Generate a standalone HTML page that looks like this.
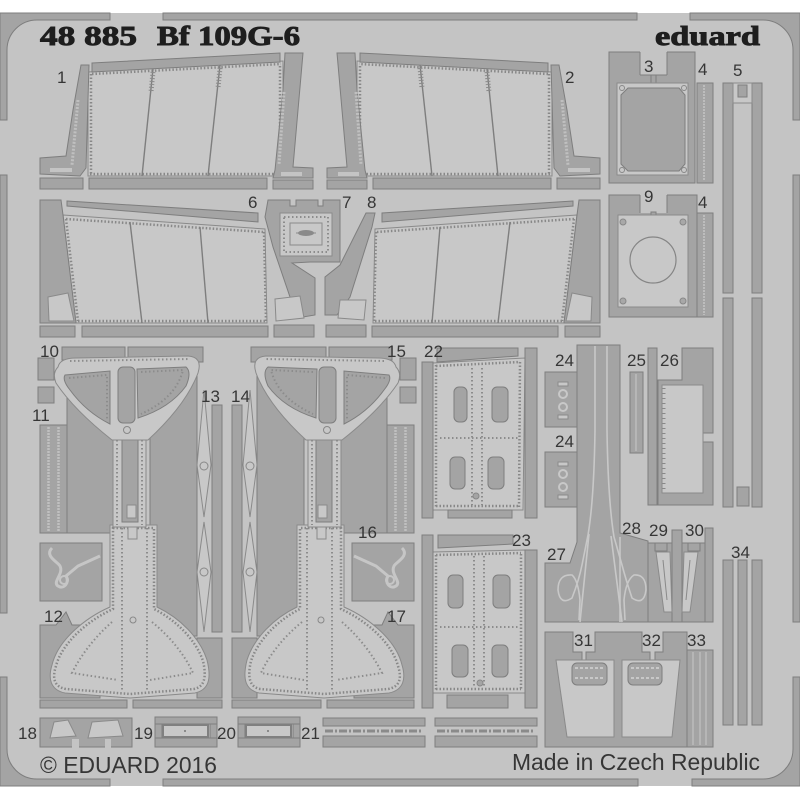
<!DOCTYPE html>
<html><head><meta charset="utf-8">
<style>
html,body{margin:0;padding:0;background:#fff;width:800px;height:800px;overflow:hidden}
svg{display:block}
.d{fill:#a4a4a4;stroke:#7e7e7e;stroke-width:1}
.p{fill:#c8c8c8;stroke:#8a8a8a;stroke-width:1}
.g{fill:#c4c4c4;stroke:none}
.r{fill:none;stroke:#888;stroke-width:2.5;stroke-dasharray:1.5 2}
.rs{fill:none;stroke:#8c8c8c;stroke-width:2;stroke-dasharray:1.5 2.5}
.ln{stroke:#7e7e7e;stroke-width:1.4;fill:none}
.w{stroke:#c8c8c8;stroke-width:1.6;fill:none}
.n{font-family:"Liberation Sans",Arial,sans-serif;font-size:17px;fill:#363636}
</style></head><body>
<svg width="800" height="800" viewBox="0 0 800 800" xmlns="http://www.w3.org/2000/svg" xmlns:xlink="http://www.w3.org/1999/xlink">
<rect x="0" y="0" width="800" height="800" fill="#fff"/>
<rect x="0" y="13" width="800" height="773" fill="#c4c4c4"/>

<!-- frame -->
<path class="d" d="M0,13H110V20H37A30,30 0 0 0 7,50V120H0Z"/>
<rect class="d" x="163" y="13" width="474" height="7"/>
<path class="d" d="M690,13H800V120H793V50A30,30 0 0 0 763,20H690Z"/>
<rect class="d" x="0" y="175" width="7" height="438"/>
<rect class="d" x="793" y="175" width="7" height="447"/>
<path class="d" d="M0,677H7V749A30,30 0 0 0 37,779H110V786H0Z"/>
<rect class="d" x="163" y="779" width="475" height="7"/>
<path class="d" d="M692,779H763A30,30 0 0 0 793,749V677H800V786H692Z"/>

<!-- titles -->
<text x="40" y="45" font-family="Liberation Serif,serif" font-weight="bold" font-size="27" fill="#1e1e1e" stroke="#1e1e1e" stroke-width="0.9" textLength="97" lengthAdjust="spacingAndGlyphs">48 885</text>
<text x="157" y="45" font-family="Liberation Serif,serif" font-weight="bold" font-size="27" fill="#1e1e1e" stroke="#1e1e1e" stroke-width="0.9" textLength="143" lengthAdjust="spacingAndGlyphs">Bf 109G-6</text>
<text x="655" y="45" font-family="Liberation Serif,serif" font-weight="bold" font-size="27" fill="#1e1e1e" stroke="#1e1e1e" stroke-width="0.9" textLength="105" lengthAdjust="spacingAndGlyphs">eduard</text>

<!-- ROW 1 (part 1), mirrored for part 2 -->
<g id="r1">
<polygon class="p" points="88,72 283,61 283,176 88,176"/>
<line class="r" x1="91" y1="74" x2="91" y2="174"/>
<line class="r" x1="92" y1="74" x2="281" y2="64"/>
<line class="r" x1="90" y1="174" x2="281" y2="174"/>
<line class="r" x1="280" y1="66" x2="280" y2="174"/>
<line class="ln" x1="153" y1="69" x2="142" y2="176"/>
<line class="ln" x1="220" y1="65" x2="208" y2="176"/>
<line x1="153" y1="72" x2="151" y2="92" stroke="#8a8a8a" stroke-width="5" stroke-dasharray="1 2"/>
<line x1="220" y1="68" x2="218" y2="88" stroke="#8a8a8a" stroke-width="5" stroke-dasharray="1 2"/>
<polygon class="d" points="92,63 280,53 280,62 92,72"/>
<polygon class="d" points="81,65 89,65 86,168 80,176 40,174 40,158 66,156 73,110"/>
<line x1="78" y1="100" x2="72" y2="165" stroke="#c0c0c0" stroke-width="3" stroke-dasharray="2 1.5"/>
<rect class="g" x="50" y="168" width="22" height="4"/>
<polygon class="d" points="285,53 303,53 293,167 313,168 313,178 273,178 275,170 283,90"/>
<line x1="284" y1="92" x2="279" y2="165" stroke="#c0c0c0" stroke-width="3" stroke-dasharray="2 1.5"/>
<rect class="g" x="281" y="172" width="21" height="4"/>
<rect class="d" x="40" y="178" width="43" height="11"/>
<rect class="d" x="89" y="178" width="178" height="11"/>
<rect class="d" x="273" y="180" width="40" height="9"/>
</g>
<use xlink:href="#r1" href="#r1" transform="translate(640,0) scale(-1,1)"/>

<!-- ROW 2 big panels, mirrored -->
<g id="r2">
<polygon class="p" points="63,215 265,229 267,323 76,323"/>
<line class="r" x1="66" y1="219" x2="78" y2="321"/>
<line class="r" x1="66" y1="219" x2="264" y2="232"/>
<line class="r" x1="78" y1="321" x2="265" y2="321"/>
<line class="r" x1="264" y1="232" x2="266" y2="321"/>
<line class="ln" x1="130" y1="222" x2="142" y2="323"/>
<line class="ln" x1="200" y1="227" x2="208" y2="323"/>
<polygon class="d" points="67,201 258,213 258,222 67,206"/>
<polygon class="d" points="40,200 61,200 63,215 76,323 40,323"/>
<polygon class="p" points="48,297 68,293 74,321 49,321"/>
<rect class="d" x="40" y="326" width="35" height="11"/>
<rect class="d" x="82" y="326" width="186" height="11"/>
<rect class="d" x="274" y="325" width="40" height="12"/>
</g>
<use xlink:href="#r2" href="#r2" transform="translate(640,0) scale(-1,1)"/>

<!-- part 6 frame and band -->
<polygon class="d" points="268,200 290,200 290,206 296,206 296,200 318,200 318,206 323,206 323,200 340,200 340,262 310,262 292,263 315,278 315,315 303,317 290,297 273,247 265,217"/>
<polygon class="p" points="275,299 300,296 304,318 276,321"/>
<rect class="p" x="280" y="213" width="52" height="43"/>
<rect class="rs" x="284" y="217" width="44" height="35"/>
<rect x="290" y="223" width="32" height="22" fill="none" stroke="#8a8a8a" stroke-width="1"/>
<ellipse cx="306" cy="233" rx="8" ry="3" fill="#8a8a8a"/>
<line x1="296" y1="233" x2="316" y2="233" stroke="#8a8a8a" stroke-width="1"/>
<!-- 7/8 band -->
<polygon class="d" points="366,213 375,213 372,227 350,297 337,315 325,315 325,277 340,265"/>
<polygon class="p" points="340,300 366,300 364,320 338,318"/>

<!-- parts 3,4 -->
<rect class="d" x="609" y="52" width="86" height="131"/>
<rect class="g" x="640" y="51" width="27" height="24"/>
<line x1="640" y1="52" x2="640" y2="75" stroke="#7e7e7e"/><line x1="667" y1="52" x2="667" y2="75" stroke="#7e7e7e"/>
<line x1="640" y1="75" x2="651" y2="75" stroke="#7e7e7e"/><line x1="656" y1="75" x2="667" y2="75" stroke="#7e7e7e"/>
<rect class="d" x="651" y="75" width="5" height="8"/>
<rect class="p" x="617" y="83" width="71" height="92"/>
<polygon class="d" points="628,88 679,88 685,95 685,164 679,171 628,171 621,164 621,95"/>
<circle cx="622" cy="88" r="2.5" fill="none" stroke="#888"/><circle cx="684" cy="88" r="2.5" fill="none" stroke="#888"/>
<circle cx="622" cy="170" r="2.5" fill="none" stroke="#888"/><circle cx="684" cy="170" r="2.5" fill="none" stroke="#888"/>
<rect class="d" x="697" y="83" width="16" height="100"/>
<line x1="704" y1="85" x2="704" y2="181" stroke="#bdbdbd" stroke-width="2" stroke-dasharray="2 1"/>

<!-- part 9 + 4 -->
<rect class="d" x="609" y="195" width="88" height="122"/>
<rect class="g" x="640" y="194" width="27" height="19"/>
<line x1="640" y1="195" x2="640" y2="213" stroke="#7e7e7e"/><line x1="667" y1="195" x2="667" y2="213" stroke="#7e7e7e"/>
<rect class="d" x="651" y="212" width="5" height="4"/>
<rect class="p" x="618" y="215" width="70" height="92"/>
<circle cx="653" cy="260" r="23" fill="none" stroke="#858585" stroke-width="1.2"/>
<circle cx="623" cy="222" r="3" fill="#a8a8a8" stroke="#888"/><circle cx="683" cy="222" r="3" fill="#a8a8a8" stroke="#888"/>
<circle cx="623" cy="301" r="3" fill="#a8a8a8" stroke="#888"/><circle cx="683" cy="301" r="3" fill="#a8a8a8" stroke="#888"/>
<rect class="d" x="697" y="213" width="16" height="104"/>
<line x1="704" y1="215" x2="704" y2="315" stroke="#bdbdbd" stroke-width="2" stroke-dasharray="2 1"/>

<!-- part 5 -->
<rect class="d" x="723" y="83" width="10" height="210"/>
<rect class="d" x="723" y="298" width="10" height="209"/>
<rect class="d" x="752" y="83" width="10" height="210"/>
<rect class="d" x="752" y="298" width="10" height="209"/>
<rect class="p" x="733" y="83" width="19" height="20"/>
<rect class="d" x="738" y="85" width="9" height="12"/>
<rect class="d" x="737" y="487" width="12" height="19"/>

<!-- LANDING GEAR left half (10-13), mirrored for 14-17 -->
<g id="lg">
<rect class="d" x="62" y="347" width="63" height="13"/>
<rect class="d" x="128" y="347" width="75" height="15"/>
<rect class="d" x="38" y="358" width="16" height="22"/>
<rect class="d" x="38" y="387" width="16" height="16"/>
<rect class="d" x="40" y="425" width="27" height="108"/>
<line x1="48.5" y1="427" x2="48.5" y2="531" stroke="#c0c0c0" stroke-width="2.5" stroke-dasharray="2 1"/>
<line x1="58.5" y1="427" x2="58.5" y2="531" stroke="#c0c0c0" stroke-width="2.5" stroke-dasharray="2 1"/>
<rect class="d" x="67" y="395" width="48" height="138"/>
<rect class="d" x="150" y="360" width="47" height="276"/>
<rect class="d" x="212" y="405" width="10" height="227"/>
<rect class="d" x="40" y="543" width="62" height="58"/>
<path d="M52,548 C44,556 58,562 60,566 C64,574 52,582 58,586 C64,590 70,582 66,576 L78,566 L100,556" fill="none" stroke="#c6c6c6" stroke-width="3"/>
<circle cx="64" cy="580" r="4" fill="none" stroke="#c6c6c6" stroke-width="2"/>
<polygon class="d" points="40,625 56,625 66,612 72,625 100,625 100,698 40,698"/>
<rect class="d" x="197" y="638" width="25" height="60"/>
<rect class="d" x="40" y="700" width="87" height="8"/>
<rect class="d" x="133" y="700" width="89" height="8"/>
<!-- bell -->
<path class="p" d="M110,525 L157,525 L157,607 C180,618 200,638 207,660 C212,680 208,690 195,693 L130,698 L65,693 C50,690 48,678 52,665 C58,640 85,618 110,607 Z"/>
<path class="r" d="M113,528 L154,528 L154,609 C176,620 196,640 203,661 C207,678 204,687 194,689 L130,694 L66,689 C54,687 52,678 56,666 C62,643 87,621 113,609 Z"/>
<line class="rs" x1="122" y1="528" x2="122" y2="690"/>
<line class="rs" x1="147" y1="528" x2="147" y2="690"/>
<path class="rs" d="M112,622 Q86,645 72,673 L118,680"/>
<path class="rs" d="M152,622 Q180,645 193,673 L150,680"/>
<circle cx="133" cy="620" r="3" fill="none" stroke="#888"/>
<!-- stem -->
<rect class="p" x="113" y="436" width="33" height="91"/>
<rect class="d" x="122" y="440" width="16" height="82"/>
<line class="rs" x1="117" y1="440" x2="117" y2="525"/>
<line class="rs" x1="142" y1="440" x2="142" y2="525"/>
<rect class="p" x="127" y="505" width="9" height="13"/>
<rect class="p" x="128" y="527" width="9" height="12"/>
<!-- shield -->
<path class="p" d="M58,367 Q60,358 76,358 L188,356 Q203,357 198,373 Q186,405 148,440 L112,440 Q74,410 56,383 Q52,373 58,367 Z"/>
<path class="d" d="M65,375 L110,371 L110,424 Q86,412 70,390 Q62,380 65,375 Z"/>
<path class="d" d="M137,369 L186,367 Q192,372 186,386 Q170,408 138,418 Z"/>
<rect class="d" x="118" y="367" width="17" height="56" rx="5"/>
<path class="rs" d="M69,378 L107,375 L107,420"/>
<path class="rs" d="M141,372 L183,370 Q176,398 141,414"/>
<line class="rs" x1="70" y1="361" x2="190" y2="359"/>
<circle cx="127" cy="430" r="3.5" fill="none" stroke="#888"/>
<!-- part 13 chain -->
<path class="p" d="M204,390 L211,465 L204,517 L197,465 Z"/>
<path class="p" d="M204,522 L211,572 L204,632 L197,572 Z"/>
<circle cx="204" cy="466" r="4" fill="#c8c8c8" stroke="#888"/>
<circle cx="204" cy="572" r="4" fill="#c8c8c8" stroke="#888"/>
</g>
<use xlink:href="#lg" href="#lg" transform="translate(454,0) scale(-1,1)"/>

<!-- bottom row 18-21 -->
<rect class="d" x="40" y="718" width="92" height="29"/>
<polygon class="p" points="54,722 68,720 76,736 50,738"/>
<polygon class="p" points="92,722 118,720 123,736 88,738"/>
<rect class="g" x="72" y="739" width="7" height="9"/>
<rect class="g" x="105" y="739" width="6" height="9"/>
<g id="p19">
<rect class="d" x="155" y="717" width="62" height="7"/>
<rect class="d" x="155" y="738" width="62" height="9"/>
<rect class="d" x="155" y="724" width="7" height="14"/>
<rect class="d" x="210" y="724" width="7" height="14"/>
<rect x="163" y="725" width="45" height="12" fill="#c8c8c8" stroke="#808080" stroke-width="2"/>
<circle cx="185" cy="731" r="1" fill="#777"/>
</g>
<use xlink:href="#p19" href="#p19" transform="translate(83,0)"/>
<g id="p21">
<rect class="d" x="323" y="718" width="102" height="8"/>
<rect class="d" x="323" y="736" width="102" height="11"/>
<line x1="325" y1="731" x2="423" y2="731" stroke="#8a8a8a" stroke-width="3" stroke-dasharray="8 2 2 2"/>
</g>
<use xlink:href="#p21" href="#p21" transform="translate(112,0)"/>

<!-- parts 22 / 23 -->
<g id="p22">
<polygon class="p" points="433,363 525,358 523,510 433,510"/>
<line class="r" x1="436" y1="365" x2="436" y2="508"/>
<line class="r" x1="520" y1="362" x2="519" y2="508"/>
<line class="r" x1="436" y1="506" x2="520" y2="506"/>
<line class="r" x1="436" y1="366" x2="520" y2="362"/>
<line class="rs" x1="472" y1="368" x2="472" y2="505"/>
<line class="rs" x1="482" y1="368" x2="482" y2="505"/>
<line class="rs" x1="440" y1="438" x2="518" y2="438"/>
<rect class="d" x="454" y="387" width="13" height="35" rx="5"/>
<rect class="d" x="492" y="387" width="16" height="35" rx="5"/>
<rect class="d" x="450" y="457" width="15" height="32" rx="5"/>
<rect class="d" x="488" y="457" width="16" height="32" rx="5"/>
<circle cx="476" cy="496" r="3" fill="#a4a4a4" stroke="#888"/>
<rect class="d" x="422" y="362" width="11" height="156"/>
<polygon class="d" points="437,348 518,348 518,356 437,362"/>
<rect class="d" x="525" y="348" width="12" height="170"/>
<rect class="d" x="448" y="510" width="64" height="8"/>
</g>
<polygon class="p" points="432,552 525,550 525,693 432,693"/>
<line class="r" x1="436" y1="555" x2="436" y2="690"/>
<line class="r" x1="521" y1="554" x2="521" y2="690"/>
<line class="r" x1="436" y1="689" x2="521" y2="689"/>
<line class="r" x1="436" y1="555" x2="521" y2="553"/>
<line class="rs" x1="474" y1="556" x2="474" y2="688"/>
<line class="rs" x1="484" y1="556" x2="484" y2="688"/>
<line class="rs" x1="440" y1="627" x2="518" y2="627"/>
<rect class="d" x="448" y="575" width="15" height="33" rx="5"/>
<rect class="d" x="493" y="575" width="17" height="33" rx="5"/>
<rect class="d" x="452" y="645" width="16" height="32" rx="5"/>
<rect class="d" x="492" y="645" width="16" height="32" rx="5"/>
<circle cx="480" cy="683" r="3" fill="#a4a4a4" stroke="#888"/>
<rect class="d" x="422" y="535" width="11" height="173"/>
<polygon class="d" points="438,535 513,535 513,544 438,548"/>
<rect class="d" x="525" y="550" width="12" height="158"/>
<rect class="d" x="447" y="695" width="61" height="13"/>

<!-- parts 24-30 -->
<polygon class="d" points="577,345 620,345 620,533 648,541 648,622 545,622 545,563 570,563 577,542"/>
<path class="w" d="M589,534 L580,622"/>
<path class="w" d="M611,536 L622,622"/>
<path class="w" d="M620,537 L620,622"/>
<path class="w" d="M595,346 L595,430 Q594,500 588,535 L582,565 Q579,580 572,598 Q560,606 558,590 Q558,574 572,575 Q578,580 580,600 L579,620"/>
<path class="w" d="M607,346 L607,430 Q608,500 614,537 L622,565 Q626,580 632,598 Q644,606 646,590 Q646,574 634,575 Q626,580 624,600 L625,620"/>
<rect class="d" x="545" y="372" width="32" height="55"/>
<rect class="d" x="545" y="452" width="32" height="55"/>
<g fill="none" stroke="#c8c8c8" stroke-width="2">
<circle cx="563" cy="394" r="4"/><circle cx="563" cy="407" r="4"/>
<circle cx="563" cy="474" r="4"/><circle cx="563" cy="487" r="4"/>
</g>
<rect class="p" x="558" y="382" width="10" height="4"/><rect class="p" x="558" y="415" width="10" height="4"/>
<rect class="p" x="558" y="462" width="10" height="4"/><rect class="p" x="558" y="495" width="10" height="4"/>
<!-- 25/26 -->
<rect class="d" x="630" y="372" width="13" height="81"/>
<line x1="636" y1="374" x2="636" y2="451" stroke="#bdbdbd" stroke-width="1.5"/>
<rect class="d" x="648" y="348" width="9" height="157"/>
<path class="d" d="M658,380 L682,380 L682,348 L713,348 L713,433 L703,433 L703,385 L662,385 L662,493 L703,493 L703,442 L713,442 L713,505 L658,505 Z"/>
<rect class="p" x="662" y="385" width="41" height="108"/>
<line x1="664" y1="388" x2="664" y2="490" stroke="#888" stroke-width="3" stroke-dasharray="1 4"/>
<!-- 29/30 -->
<rect class="d" x="648" y="543" width="65" height="79"/>
<rect class="d" x="672" y="530" width="10" height="92"/>
<rect class="d" x="705" y="528" width="8" height="94"/>
<polygon class="p" points="656,552 670,552 672,612 664,612"/>
<polygon class="p" points="684,552 698,552 690,612 682,612"/>
<rect class="d" x="655" y="543" width="12" height="8"/>
<rect class="d" x="688" y="543" width="12" height="8"/>
<line x1="663" y1="560" x2="667" y2="600" stroke="#888"/>
<line x1="690" y1="560" x2="686" y2="600" stroke="#888"/>

<!-- parts 31-33 -->
<path class="d" d="M545,632 L573,632 L573,652 L582,652 L582,660 L586,660 L586,652 L595,652 L595,632 L642,632 L642,652 L650,652 L650,660 L655,660 L655,652 L663,652 L663,632 L687,632 L687,747 L545,747 Z"/>
<polygon class="p" points="556,660 614,660 614,737 567,737"/>
<polygon class="p" points="622,660 680,660 672,737 622,737"/>
<rect class="d" x="572" y="663" width="35" height="22" rx="5"/>
<rect class="d" x="628" y="663" width="34" height="22" rx="5"/>
<line x1="575" y1="668" x2="604" y2="668" stroke="#c8c8c8" stroke-width="2" stroke-dasharray="3 2"/>
<line x1="575" y1="678" x2="604" y2="678" stroke="#c8c8c8" stroke-width="2" stroke-dasharray="3 2"/>
<line x1="631" y1="668" x2="659" y2="668" stroke="#c8c8c8" stroke-width="2" stroke-dasharray="3 2"/>
<line x1="631" y1="678" x2="659" y2="678" stroke="#c8c8c8" stroke-width="2" stroke-dasharray="3 2"/>
<rect class="d" x="687" y="650" width="26" height="97"/>
<line x1="693" y1="652" x2="693" y2="745" stroke="#bdbdbd" stroke-width="1.5"/>
<line x1="700" y1="652" x2="700" y2="745" stroke="#bdbdbd" stroke-width="1.5"/>
<line x1="706" y1="652" x2="706" y2="745" stroke="#bdbdbd" stroke-width="1.5"/>

<!-- part 34 -->
<rect class="d" x="723" y="560" width="10" height="165"/>
<rect class="d" x="738" y="560" width="9" height="165"/>
<rect class="d" x="752" y="560" width="10" height="165"/>

<!-- labels -->
<g class="n">
<text x="57" y="83">1</text>
<text x="565" y="83">2</text>
<text x="644" y="72">3</text>
<text x="698" y="75">4</text>
<text x="733" y="76">5</text>
<text x="248" y="208">6</text>
<text x="342" y="208">7</text>
<text x="367" y="208">8</text>
<text x="644" y="202">9</text>
<text x="698" y="208">4</text>
<text x="40" y="357">10</text>
<text x="32" y="421">11</text>
<text x="44" y="622">12</text>
<text x="201" y="402">13</text>
<text x="231" y="402">14</text>
<text x="387" y="357">15</text>
<text x="358" y="538">16</text>
<text x="387" y="622">17</text>
<text x="18" y="739">18</text>
<text x="134" y="739">19</text>
<text x="217" y="739">20</text>
<text x="301" y="739">21</text>
<text x="424" y="357">22</text>
<text x="512" y="546">23</text>
<text x="555" y="366">24</text>
<text x="555" y="447">24</text>
<text x="627" y="366">25</text>
<text x="660" y="366">26</text>
<text x="547" y="560">27</text>
<text x="622" y="534">28</text>
<text x="649" y="536">29</text>
<text x="685" y="536">30</text>
<text x="574" y="646">31</text>
<text x="642" y="646">32</text>
<text x="687" y="646">33</text>
<text x="731" y="558">34</text>
</g>

<text x="40" y="773" font-family="Liberation Sans,Arial,sans-serif" font-size="23" fill="#363636" textLength="177" lengthAdjust="spacingAndGlyphs">© EDUARD 2016</text>
<text x="512" y="770" font-family="Liberation Sans,Arial,sans-serif" font-size="23" fill="#363636" textLength="248" lengthAdjust="spacingAndGlyphs">Made in Czech Republic</text>
</svg>
</body></html>
